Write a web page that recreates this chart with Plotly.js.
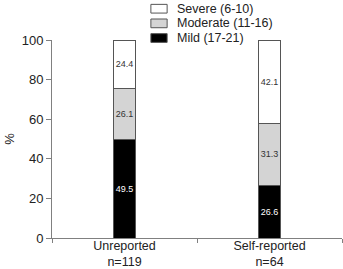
<!DOCTYPE html>
<html>
<head>
<meta charset="utf-8">
<script src="https://cdn.plot.ly/plotly-3.0.1.min.js"></script>
<style>
  html, body { margin: 0; padding: 0; background: #fff; }
  #chart { width: 343px; height: 269px; }
</style>
</head>
<body>
<div id="chart"></div>
<script>
// Groups on the x axis
const groups = ['Unreported<br>n=119', 'Self-reported<br>n=64'];

// Share of each severity level within a group (%)
const mild = [49.5, 26.6];
const moderate = [26.1, 31.3];
const severe = [24.4, 42.1];

const seriesNames = ['Mild (17-21)', 'Moderate (11-16)', 'Severe (6-10)'];
const fills = ['#000000', '#d4d4d4', '#ffffff'];
const labelColors = ['#ffffff', '#333333', '#333333'];
const edge = '#555555';
const FONT = 'Liberation Sans, Arial, sans-serif';

const traces = [mild, moderate, severe].map((vals, i) => ({
  type: 'bar',
  name: seriesNames[i],
  x: groups,
  y: vals,
  width: 0.15,
  text: vals.map(v => v.toFixed(1)),
  textposition: 'inside',
  insidetextanchor: 'middle',
  textangle: 0,
  constraintext: 'none',
  textfont: { family: FONT, size: 9, color: labelColors[i] },
  marker: { color: fills[i], line: { color: edge, width: 1 } },
  hoverinfo: 'skip',
  showlegend: false
}));

// Compact key above the plot: swatch + label per series, top row = Severe
const keyRows = [2, 1, 0];
const keyY = [1.158, 1.084, 1.010];
const shapes = [];
const annotations = [];
keyRows.forEach((s, r) => {
  shapes.push({
    type: 'rect', xref: 'paper', yref: 'paper',
    x0: 0.341, x1: 0.397, y0: keyY[r] - 0.022, y1: keyY[r] + 0.022,
    fillcolor: fills[s], line: { color: edge, width: 1 }
  });
  annotations.push({
    xref: 'paper', yref: 'paper', x: 0.428, y: keyY[r],
    xanchor: 'left', yanchor: 'middle', showarrow: false,
    text: seriesNames[s], borderpad: 0,
    font: { family: FONT, size: 12.5, color: '#222222' }
  });
});

const layout = {
  width: 343,
  height: 269,
  margin: { l: 52, r: 1, t: 40, b: 31 },
  barmode: 'stack',
  paper_bgcolor: '#ffffff',
  plot_bgcolor: '#ffffff',
  font: { family: FONT, size: 13, color: '#222222' },
  showlegend: false,
  shapes: shapes,
  annotations: annotations,
  xaxis: {
    type: 'category',
    tickson: 'boundaries',
    ticks: 'outside',
    ticklen: 4,
    tickcolor: '#808080',
    showline: true,
    linecolor: '#808080',
    linewidth: 1,
    showgrid: false,
    zeroline: false,
    tickfont: { size: 12.5 },
    ticklabelstandoff: -4,
    fixedrange: true
  },
  yaxis: {
    range: [0, 100],
    dtick: 20,
    ticks: 'outside',
    ticklen: 5,
    tickcolor: '#808080',
    showline: true,
    linecolor: '#808080',
    linewidth: 1,
    showgrid: false,
    zeroline: false,
    tickfont: { size: 13 },
    title: { text: '%', font: { size: 13 }, standoff: 4 },
    fixedrange: true
  }
};

Plotly.newPlot('chart', traces, layout, { displayModeBar: false, staticPlot: true });
</script>
</body>
</html>
